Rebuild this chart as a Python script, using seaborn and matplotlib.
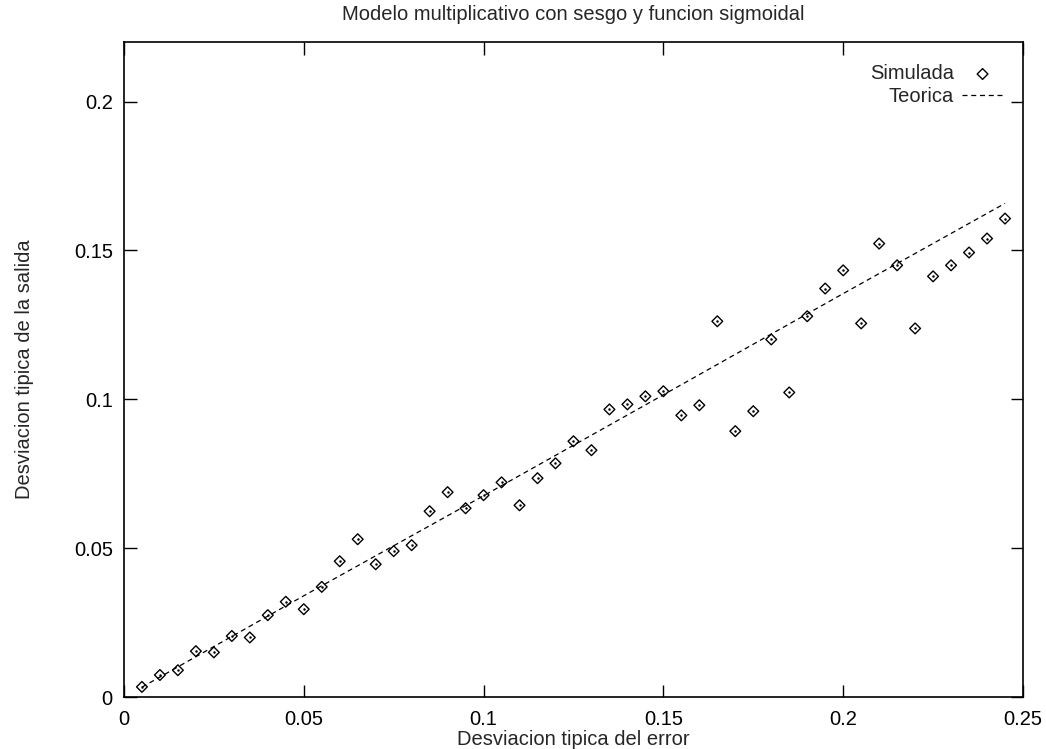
import numpy as np
import pandas as pd
import matplotlib
matplotlib.use('Agg')
import matplotlib.pyplot as plt
import seaborn as sns

sns.set_theme(style='white')
plt.rcParams['font.family'] = ['Liberation Sans', 'DejaVu Sans']

# simulated points
sim_x = [0.005, 0.010, 0.015, 0.020, 0.025, 0.030, 0.035, 0.040, 0.045, 0.050,
         0.055, 0.060, 0.065, 0.070, 0.075, 0.080, 0.085, 0.090, 0.095, 0.100,
         0.105, 0.110, 0.115, 0.120, 0.125, 0.130, 0.135, 0.140, 0.145, 0.150,
         0.155, 0.160, 0.165, 0.170, 0.175, 0.180, 0.185, 0.190, 0.195, 0.200,
         0.205, 0.210, 0.215, 0.220, 0.225, 0.230, 0.235, 0.240, 0.245]
sim_y = [0.0034, 0.0074, 0.0090, 0.0154, 0.0150, 0.0205, 0.0200, 0.0275, 0.0320, 0.0295,
         0.0370, 0.0456, 0.0530, 0.0446, 0.0490, 0.0510, 0.0624, 0.0688, 0.0634, 0.0678,
         0.0721, 0.0644, 0.0735, 0.0785, 0.0859, 0.0829, 0.0966, 0.0983, 0.1010, 0.1027,
         0.0946, 0.0980, 0.1262, 0.0893, 0.0960, 0.1201, 0.1023, 0.1279, 0.1372, 0.1433,
         0.1255, 0.1523, 0.1450, 0.1238, 0.1413, 0.1450, 0.1493, 0.1540, 0.1607]

# theoretical curve
teo_x = [0.005, 0.05, 0.10, 0.15, 0.20, 0.245]
teo_y = [0.0033, 0.0340, 0.0676, 0.1015, 0.1355, 0.1658]

sim = pd.DataFrame({'x': sim_x, 'y': sim_y})
teo = pd.DataFrame({'x': teo_x, 'y': teo_y})

fs = 14.5

fig = plt.figure(figsize=(10.46, 7.49), dpi=100)
ax = fig.add_axes([0.1185, 0.0694, 0.8595, 0.8745])

sns.scatterplot(x='x', y='y', data=sim, ax=ax, marker='D', s=30,
                facecolor='none', edgecolor='black', linewidth=1.0, label='Simulada')
ax.scatter(sim_x, sim_y, s=0.6, color='black', zorder=3)
sns.lineplot(x='x', y='y', data=teo, ax=ax, color='black', linewidth=0.9,
             label='Teorica')
ax.lines[-1].set_dashes((4, 3))

ax.set_xlim(0, 0.25)
ax.set_ylim(0, 0.22)
ax.set_xticks([0, 0.05, 0.1, 0.15, 0.2, 0.25])
ax.set_xticklabels(['0', '0.05', '0.1', '0.15', '0.2', '0.25'])
ax.set_yticks([0, 0.05, 0.1, 0.15, 0.2])
ax.set_yticklabels(['0', '0.05', '0.1', '0.15', '0.2'])
ax.tick_params(direction='in', length=9, width=1, top=True, right=True,
               bottom=True, left=True, labelsize=fs, colors='black')
ax.tick_params(axis='x', pad=9)
ax.tick_params(axis='y', pad=8)
for s in ax.spines.values():
    s.set_color('black')
    s.set_linewidth(1.2)

ax.set_title('Modelo multiplicativo con sesgo y funcion sigmoidal', fontsize=fs, pad=16)
ax.set_xlabel('Desviacion tipica del error', fontsize=fs, labelpad=1)
ax.set_ylabel('Desviacion tipica de la salida', fontsize=fs, labelpad=29)

leg = ax.legend(loc='upper right', frameon=False, markerfirst=False, fontsize=fs,
                handlelength=2.05, handletextpad=0.4, borderaxespad=0, borderpad=0,
                labelspacing=0.2, bbox_to_anchor=(0.978, 0.966))

plt.savefig('out.png', dpi=100)
